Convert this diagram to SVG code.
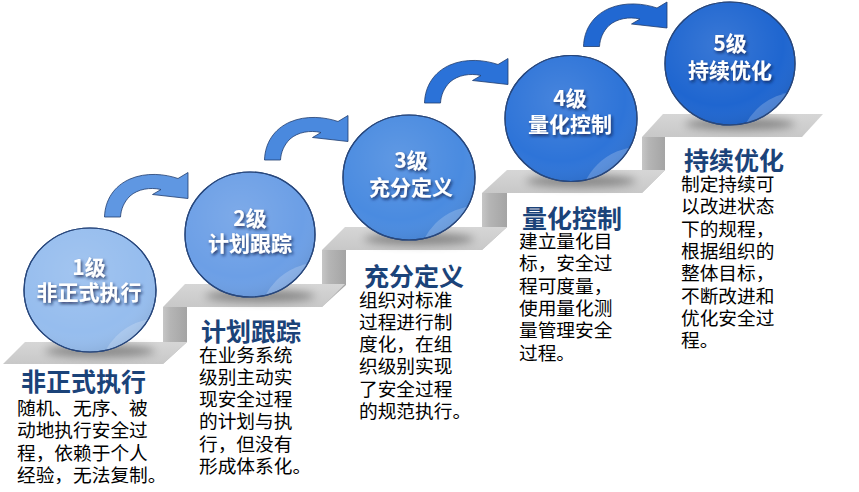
<svg xmlns="http://www.w3.org/2000/svg" width="859" height="492" viewBox="0 0 859 492">
<defs>
<style>
.step{fill:url(#gTop);}
.riser{fill:url(#gRiser);}
.ball{stroke:#27477d;stroke-width:1.2;}
.shine{fill:url(#gShine);stroke:none;}
.hl{fill:#ffffff;fill-opacity:0.2;}
.lvl{font-family:"Noto Sans CJK SC","Noto Sans",sans-serif;font-weight:700;font-size:21px;fill:#ffffff;text-anchor:middle;filter:url(#ts);}
.ttl{font-family:"Noto Sans CJK SC","Noto Sans",sans-serif;font-weight:700;font-size:25px;fill:#1b4379;}
.body{font-family:"Noto Sans CJK SC","Noto Sans",sans-serif;font-size:18.7px;font-weight:400;fill:#000000;}
.arrow{stroke:#1f3c6e;stroke-width:0.8;stroke-linejoin:round;}
.shadow{fill:#000;opacity:0.35;filter:url(#blur);}
</style>
<linearGradient id="gTop" x1="0" y1="0" x2="0" y2="1">
<stop offset="0" stop-color="#d6d6d6"/>
<stop offset="1" stop-color="#c8c8c8"/>
</linearGradient>
<linearGradient id="gRiser" x1="0" y1="0" x2="1" y2="0">
<stop offset="0" stop-color="#c6c6c6"/>
<stop offset="0.3" stop-color="#b5b5b5"/>
<stop offset="1" stop-color="#a4a4a4"/>
</linearGradient>
<radialGradient id="gShine" cx="0.42" cy="0.35" r="0.7">
<stop offset="0" stop-color="#ffffff" stop-opacity="0.12"/>
<stop offset="0.7" stop-color="#ffffff" stop-opacity="0"/>
<stop offset="1" stop-color="#000000" stop-opacity="0.1"/>
</radialGradient>
<filter id="ts" x="-20%" y="-40%" width="140%" height="180%">
<feDropShadow dx="1.5" dy="2" stdDeviation="1.5" flood-color="#0a1f44" flood-opacity="0.75"/>
</filter>
<filter id="blur" x="-30%" y="-200%" width="160%" height="500%">
<feGaussianBlur stdDeviation="4"/>
</filter>
<clipPath id="c1"><ellipse cx="90" cy="290" rx="66" ry="62"/></clipPath>
<clipPath id="c2"><ellipse cx="250" cy="234.5" rx="65" ry="62.5"/></clipPath>
<clipPath id="c3"><ellipse cx="409" cy="177.5" rx="66" ry="62.5"/></clipPath>
<clipPath id="c4"><ellipse cx="571" cy="118.5" rx="66" ry="63"/></clipPath>
<clipPath id="c5"><ellipse cx="730" cy="63.5" rx="65" ry="61.5"/></clipPath>
<path id="arw" d="M104.5,217 C105,200 114,186 130,179 C146,172 165,174 178,178.5 L188,172.5 L188,198.5 L152.5,194.5 L161,189.5 C150,187 138,189 130,196 C124,202 121,209 120.5,217 Z"/>
</defs>
<rect width="859" height="492" fill="#ffffff"/>

<g id="stairs">
<polygon class="riser" points="163,307 187,307 187,342 163,364"/>
<polygon class="riser" points="322,250 346,250 346,285 322,307"/>
<polygon class="riser" points="482,193 507,193 507,227 482,250"/>
<polygon class="riser" points="642,137 665,137 665,170 642,193"/>
<polygon class="step" points="3,364 163,364 187,342 25,342"/>
<polygon class="step" points="163,307 322,307 345,284 185,284"/>
<polygon class="step" points="322,250 482,250 507,227 345,227"/>
<polygon class="step" points="482,193 642,193 665,170 507,170"/>
<polygon class="step" points="642,137 802,137 823,114 663,114"/>
<ellipse class="shadow" cx="100" cy="351" rx="55" ry="6"/>
<ellipse class="shadow" cx="260" cy="296" rx="55" ry="6"/>
<ellipse class="shadow" cx="419" cy="239" rx="55" ry="6"/>
<ellipse class="shadow" cx="581" cy="181" rx="55" ry="6"/>
<ellipse class="shadow" cx="740" cy="124" rx="55" ry="6"/>
</g>

<g id="connectors">
<use href="#arw" class="arrow" fill="#5f97e2"/>
<use href="#arw" class="arrow" fill="#4a89de" transform="translate(160,-57)"/>
<use href="#arw" class="arrow" fill="#2b72d8" transform="translate(320,-114)"/>
<use href="#arw" class="arrow" fill="#2168d2" transform="translate(479,-170.5)"/>
</g>

<g id="node1">
<ellipse class="ball" cx="90" cy="290" rx="66" ry="62" fill="#96bdee"/>
<ellipse class="shine" cx="90" cy="290" rx="66" ry="62"/>
<circle class="hl" cx="160" cy="380" r="62" clip-path="url(#c1)"/>
<ellipse cx="90" cy="290" rx="66" ry="62" fill="none" stroke="#27477d" stroke-width="1.2"/>
<text class="lvl" x="89" y="275">1级<tspan x="89" dy="25">非正式执行</tspan></text>
<text class="ttl" x="21" y="391">非正式执行<tspan class="body" x="17" dy="24">随机、无序、被</tspan><tspan class="body" x="17" dy="22.3">动地执行安全过</tspan><tspan class="body" x="17" dy="22.3">程，依赖于个人</tspan><tspan class="body" x="17" dy="22.3">经验，无法复制。</tspan></text>
</g>

<g id="node2">
<ellipse class="ball" cx="250" cy="234.5" rx="65" ry="62.5" fill="#6c9fe6"/>
<ellipse class="shine" cx="250" cy="234.5" rx="65" ry="62.5"/>
<circle class="hl" cx="320" cy="324.5" r="62" clip-path="url(#c2)"/>
<ellipse cx="250" cy="234.5" rx="65" ry="62.5" fill="none" stroke="#27477d" stroke-width="1.2"/>
<text class="lvl" x="250" y="226">2级<tspan x="250" dy="25">计划跟踪</tspan></text>
<text class="ttl" x="201" y="341">计划跟踪<tspan class="body" x="199" dy="20.5">在业务系统</tspan><tspan class="body" x="199" dy="22.3">级别主动实</tspan><tspan class="body" x="199" dy="22.3">现安全过程</tspan><tspan class="body" x="199" dy="22.3">的计划与执</tspan><tspan class="body" x="199" dy="22.3">行，但没有</tspan><tspan class="body" x="199" dy="22.3">形成体系化。</tspan></text>
</g>

<g id="node3">
<ellipse class="ball" cx="409" cy="177.5" rx="66" ry="62.5" fill="#4a8be0"/>
<ellipse class="shine" cx="409" cy="177.5" rx="66" ry="62.5"/>
<circle class="hl" cx="479" cy="267.5" r="62" clip-path="url(#c3)"/>
<ellipse cx="409" cy="177.5" rx="66" ry="62.5" fill="none" stroke="#27477d" stroke-width="1.2"/>
<text class="lvl" x="411" y="168">3级<tspan x="411" dy="26.5">充分定义</tspan></text>
<text class="ttl" x="364" y="286">充分定义<tspan class="body" x="359" dy="20.5">组织对标准</tspan><tspan class="body" x="359" dy="22.3">过程进行制</tspan><tspan class="body" x="359" dy="22.3">度化，在组</tspan><tspan class="body" x="359" dy="22.3">织级别实现</tspan><tspan class="body" x="359" dy="22.3">了安全过程</tspan><tspan class="body" x="359" dy="22.3">的规范执行。</tspan></text>
</g>

<g id="node4">
<ellipse class="ball" cx="571" cy="118.5" rx="66" ry="63" fill="#2e74d8"/>
<ellipse class="shine" cx="571" cy="118.5" rx="66" ry="63"/>
<circle class="hl" cx="641" cy="208.5" r="62" clip-path="url(#c4)"/>
<ellipse cx="571" cy="118.5" rx="66" ry="63" fill="none" stroke="#27477d" stroke-width="1.2"/>
<text class="lvl" x="570" y="106">4级<tspan x="570" dy="25.5">量化控制</tspan></text>
<text class="ttl" x="522" y="228">量化控制<tspan class="body" x="519" dy="20">建立量化目</tspan><tspan class="body" x="519" dy="22.3">标，安全过</tspan><tspan class="body" x="519" dy="22.3">程可度量，</tspan><tspan class="body" x="519" dy="22.3">使用量化测</tspan><tspan class="body" x="519" dy="22.3">量管理安全</tspan><tspan class="body" x="519" dy="22.3">过程。</tspan></text>
</g>

<g id="node5">
<ellipse class="ball" cx="730" cy="63.5" rx="65" ry="61.5" fill="#1f66d0"/>
<ellipse class="shine" cx="730" cy="63.5" rx="65" ry="61.5"/>
<circle class="hl" cx="800" cy="153.5" r="62" clip-path="url(#c5)"/>
<ellipse cx="730" cy="63.5" rx="65" ry="61.5" fill="none" stroke="#27477d" stroke-width="1.2"/>
<text class="lvl" x="730" y="51">5级<tspan x="730" dy="26.5">持续优化</tspan></text>
<text class="ttl" x="684" y="170">持续优化<tspan class="body" x="681" dy="21">制定持续可</tspan><tspan class="body" x="681" dy="22.3">以改进状态</tspan><tspan class="body" x="681" dy="22.3">下的规程，</tspan><tspan class="body" x="681" dy="22.3">根据组织的</tspan><tspan class="body" x="681" dy="22.3">整体目标，</tspan><tspan class="body" x="681" dy="22.3">不断改进和</tspan><tspan class="body" x="681" dy="22.3">优化安全过</tspan><tspan class="body" x="681" dy="22.3">程。</tspan></text>
</g>
</svg>
